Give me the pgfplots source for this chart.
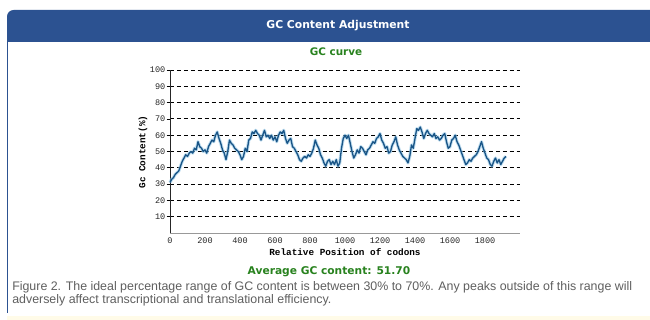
\documentclass[border=0pt]{standalone}
\usepackage{fontspec}
\setmainfont{Liberation Sans}
\newfontfamily\monof{Liberation Mono}
\newfontfamily\headf{DejaVu Sans}
\usepackage{pgfplots}
\pgfplotsset{compat=1.18}
\usepackage{pgfplotstable}
\definecolor{hdrblue}{RGB}{44,82,145}
\definecolor{gcgreen}{RGB}{40,130,30}
\definecolor{curve}{RGB}{25,85,135}
\definecolor{halo}{RGB}{150,200,230}
\definecolor{captgray}{RGB}{95,95,95}
\pgfplotstableread{
pos gc
0 31
10 33
20 34
30 36
40 37
50 38
60 41
70 44
80 46
90 48
100 47
110 49
120 50
130 49
140 52
150 51
160 56
170 53
180 52
190 50
200 51
210 49
220 53
230 55
240 57
250 56
260 60
270 62
280 58
290 55
300 51
310 49
320 45
330 50
340 57
350 55
360 54
370 52
380 51
390 50
400 48
410 45
420 47
430 52
440 50
450 57
460 58
470 62
480 61
490 63
500 61
510 60
520 57
530 60
540 63
550 59
560 60
570 58
580 60
590 57
600 59
610 56
620 60
630 62
640 61
650 63
660 58
670 55
680 57
690 58
700 53
710 52
720 50
730 48
740 45
750 44
760 46
770 47
780 46
790 48
800 47
810 49
820 52
830 57
840 54
850 52
860 48
870 46
880 43
890 41
900 44
910 45
920 42
930 44
940 42
950 45
960 41
970 43
980 52
990 58
1000 60
1010 58
1020 60
1030 55
1040 50
1050 46
1060 48
1070 51
1080 49
1090 53
1100 52
1110 50
1120 48
1130 51
1140 52
1150 54
1160 56
1170 55
1180 58
1190 59
1200 61
1210 57
1220 55
1230 52
1240 53
1250 49
1260 50
1270 54
1280 56
1290 59
1300 54
1310 51
1320 49
1330 47
1340 46
1350 45
1360 43
1370 47
1380 54
1390 52
1400 58
1410 64
1420 63
1430 65
1440 62
1450 58
1460 61
1470 63
1480 61
1490 60
1500 59
1510 61
1520 58
1530 59
1540 57
1550 58
1560 60
1570 61
1580 56
1590 52
1600 53
1610 57
1620 58
1630 60
1640 56
1650 54
1660 51
1670 48
1680 45
1690 42
1700 43
1710 45
1720 44
1730 46
1740 47
1750 48
1760 50
1770 53
1780 56
1790 52
1800 49
1810 46
1820 45
1830 42
1840 41
1850 44
1860 46
1870 43
1880 45
1890 42
1900 44
1910 46
1920 47
}\gcdata
\begin{document}
\begin{tikzpicture}
\path[use as bounding box] (0,0) rectangle (487.5pt,-240pt);
\begin{scope}[x=0.75pt,y=-0.75pt]
  % panel
  \fill[white] (0,0) rectangle (650,320);
  \fill[hdrblue, rounded corners=5pt] (7,10) rectangle (660,42);
  \fill[hdrblue] (7,30) rectangle (660,42);
  \draw[hdrblue, line width=1.1pt] (7.5,42) -- (7.5,313);
  \fill[color={rgb,255:red,255;green,251;blue,232}] (7,316) rectangle (650,320);
  \node[text=white, font=\headf\bfseries\fontsize{8.1}{9}\selectfont] at (338,26) {GC Content Adjustment};
  \node[text=gcgreen, font=\headf\bfseries\fontsize{7.8}{9}\selectfont] at (336,52) {GC curve};
  \node[font=\monof\bfseries\fontsize{7}{8}\selectfont] at (345,252.5) {Relative Position of codons};
  \node[rotate=90, font=\monof\bfseries\fontsize{7}{8}\selectfont] at (143,152) {Gc Content(\%)};
  \node[text=gcgreen, font=\headf\bfseries\fontsize{8}{9}\selectfont] at (329,272) {Average GC content: 51.70};
  \node[anchor=west, text=captgray, font=\fontsize{9.3}{11}\selectfont, inner xsep=0pt] at (12,287) {Figure 2. The ideal percentage range of GC content is between 30\% to 70\%. Any peaks outside of this range will};
  \node[anchor=west, text=captgray, font=\fontsize{9.3}{11}\selectfont, inner xsep=0pt] at (12,300.5) {adversely affect transcriptional and translational efficiency.};
\end{scope}
\begin{axis}[
  at={(127.5pt,-174.75pt)}, anchor=south west,
  scale only axis, width=262.5pt, height=122.25pt,
  xmin=0, xmax=2000, ymin=0, ymax=100,
  axis x line=bottom, axis y line=left,
  axis line style={-}, 
  x axis line style={draw=gray!80},
  y axis line style={draw=black!85},
  xtick={0,200,...,1800}, ytick={10,20,...,100},
  /pgf/number format/assume math mode=true,
  /pgf/number format/1000 sep={},
  tick label style={font=\monof\fontsize{6.4}{7}\selectfont, text=black!85},
  xtick style={draw=none},
  ytick style={draw=black, line width=0.5pt},
  major tick length=2.5pt, tick align=outside,
  ymajorgrids,
  major grid style={draw=black, line width=0.6pt, dash pattern=on 3pt off 2.2pt},
  yticklabel style={xshift=2.5pt},
  xticklabel style={yshift=2.5pt},
  clip=false,
]
\addplot[halo, line width=2.4pt, opacity=0.6, line join=round] table[x=pos,y=gc] {\gcdata};
\addplot[curve, line width=1pt, line join=round] table[x=pos,y=gc] {\gcdata};
\end{axis}
\end{tikzpicture}
\end{document}
